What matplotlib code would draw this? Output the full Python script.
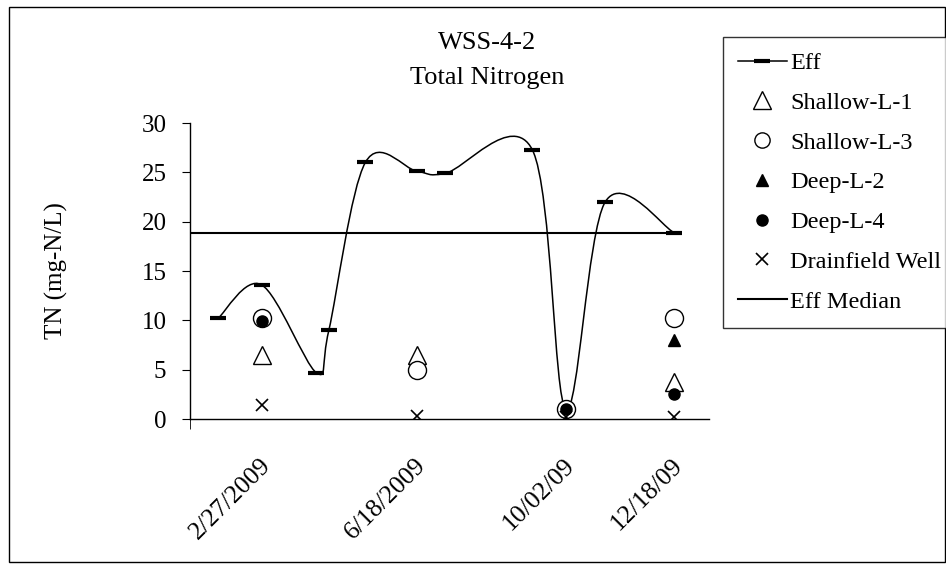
import matplotlib
matplotlib.use('Agg')
import matplotlib.pyplot as plt
import matplotlib.dates as mdates
from matplotlib.path import Path
from matplotlib.patches import PathPatch, Rectangle
from matplotlib.lines import Line2D
import numpy as np
import pandas as pd

plt.rcParams['font.family'] = ['Liberation Serif', 'DejaVu Serif']

# effluent samples
eff_dates = pd.to_datetime(['2009-01-27', '2009-02-27', '2009-04-07', '2009-04-16',
                            '2009-05-12', '2009-06-18', '2009-07-08', '2009-09-08',
                            '2009-10-02', '2009-10-30', '2009-12-18'])
eff_vals = [10.2, 13.6, 4.7, 9.0, 26.0, 25.1, 24.9, 27.3, 1.0, 22.0, 18.9]
eff_median = 18.85

# monitoring wells
well_dates = pd.to_datetime(['2009-02-27', '2009-06-18', '2009-10-02', '2009-12-18'])
shallow_l1 = [6.5, 6.5, np.nan, 3.8]
shallow_l3 = [10.2, 5.0, 1.0, 10.2]
deep_l2 = [np.nan, np.nan, np.nan, 8.0]
deep_l4 = [9.9, np.nan, 1.0, 2.5]
drainfield = [1.4, 0.3, 0.2, 0.2]
tick_labels = ['2/27/2009', '6/18/2009', '10/02/09', '12/18/09']

x_start = pd.Timestamp('2009-01-07')
x_end = pd.Timestamp('2010-01-12')

W, H = 946, 571
fig = plt.figure(figsize=(W / 100, H / 100), dpi=100)
ax = fig.add_axes([190 / W, 1 - 419 / H, (709 - 190) / W, (419 - 123) / H])

# smoothed effluent line (excel style bezier)
xs = mdates.date2num(eff_dates)
pts = np.column_stack([xs, eff_vals])
n = len(pts)
verts = [tuple(pts[0])]
codes = [Path.MOVETO]
for i in range(n - 1):
    p0 = pts[i - 1] if i > 0 else pts[i]
    p1 = pts[i]
    p2 = pts[i + 1]
    p3 = pts[i + 2] if i + 2 < n else pts[i + 1]
    c1 = p1 + (p2 - p0) / 6
    c2 = p2 - (p3 - p1) / 6
    verts += [tuple(c1), tuple(c2), tuple(p2)]
    codes += [Path.CURVE4] * 3
ax.add_patch(PathPatch(Path(verts, codes), fc='none', ec='black', lw=1.1, zorder=2))
ax.plot(eff_dates, eff_vals, ls='none', marker='_', ms=11, mew=3, color='black', zorder=3)

# median
ax.plot([x_start, eff_dates[-1]], [eff_median, eff_median], color='black', lw=1.5, zorder=2)

ax.plot(well_dates, shallow_l1, ls='none', marker='^', ms=13, mfc='white', mec='black', mew=1, zorder=4)
ax.plot(well_dates, shallow_l3, ls='none', marker='o', ms=13, mfc='white', mec='black', mew=1, zorder=4)
ax.plot(well_dates, deep_l2, ls='none', marker='^', ms=8, color='black', zorder=5)
ax.plot(well_dates, deep_l4, ls='none', marker='o', ms=8, color='black', zorder=5)
ax.plot(well_dates, drainfield, ls='none', marker='x', ms=9, mew=1.2, color='black', zorder=5)

ax.set_xlim(x_start, x_end)
ax.set_ylim(0, 30)
ax.set_yticks(range(0, 31, 5))
ax.tick_params(axis='y', direction='out', length=6, labelsize=18, pad=11)
ax.set_xticks(well_dates)
ax.set_xticklabels([])
ax.tick_params(axis='x', length=0)
for d, txt in zip(well_dates, tick_labels):
    ax.annotate(txt, xy=(d, 0), xycoords=('data', 'axes fraction'),
                xytext=(4, -31), textcoords='offset points', rotation=45,
                ha='right', va='center', rotation_mode='anchor', fontsize=18.5,
                annotation_clip=False)
ax.set_xticks([mdates.date2num(x_start)], minor=True)
ax.tick_params(axis='x', which='minor', length=7, direction='out')
ax.spines['top'].set_visible(False)
ax.spines['right'].set_visible(False)
ax.spines['left'].set_linewidth(1)
ax.spines['bottom'].set_linewidth(1)
ax.set_ylabel('TN (mg-N/L)', fontsize=18)
ax.yaxis.set_label_coords((68 - 190) / (709 - 190), 0.5)

fig.text(487 / W, 1 - 43 / H, 'WSS-4-2', ha='center', va='center', fontsize=19)
fig.text(487 / W, 1 - 78 / H, 'Total Nitrogen', ha='center', va='center', fontsize=19)

handles = [
    Line2D([], [], color='black', lw=1.1, marker='_', ms=11, mew=3),
    Line2D([], [], ls='none', marker='^', ms=13, mfc='white', mec='black'),
    Line2D([], [], ls='none', marker='o', ms=11, mfc='white', mec='black'),
    Line2D([], [], ls='none', marker='^', ms=8, color='black'),
    Line2D([], [], ls='none', marker='o', ms=8, color='black'),
    Line2D([], [], ls='none', marker='x', ms=9, mew=1.2, color='black'),
    Line2D([], [], color='black', lw=1.5),
]
labels = ['Eff', 'Shallow-L-1', 'Shallow-L-3', 'Deep-L-2', 'Deep-L-4',
          'Drainfield Well', 'Eff Median']
leg = fig.legend(handles, labels, loc='upper left', bbox_to_anchor=(723 / W, 1 - 37 / H),
                 borderaxespad=0, fontsize=17.5, frameon=True, fancybox=False,
                 edgecolor='black', labelspacing=0.73, handlelength=2.0,
                 handletextpad=0.15, borderpad=0.62)
leg.get_frame().set_linewidth(1)

fig.patches.append(Rectangle((9 / W, 1 - 562 / H), (945 - 9) / W, (562 - 7) / H,
                             transform=fig.transFigure, fill=False, ec='black', lw=1))

plt.savefig('out.png', dpi=100)
